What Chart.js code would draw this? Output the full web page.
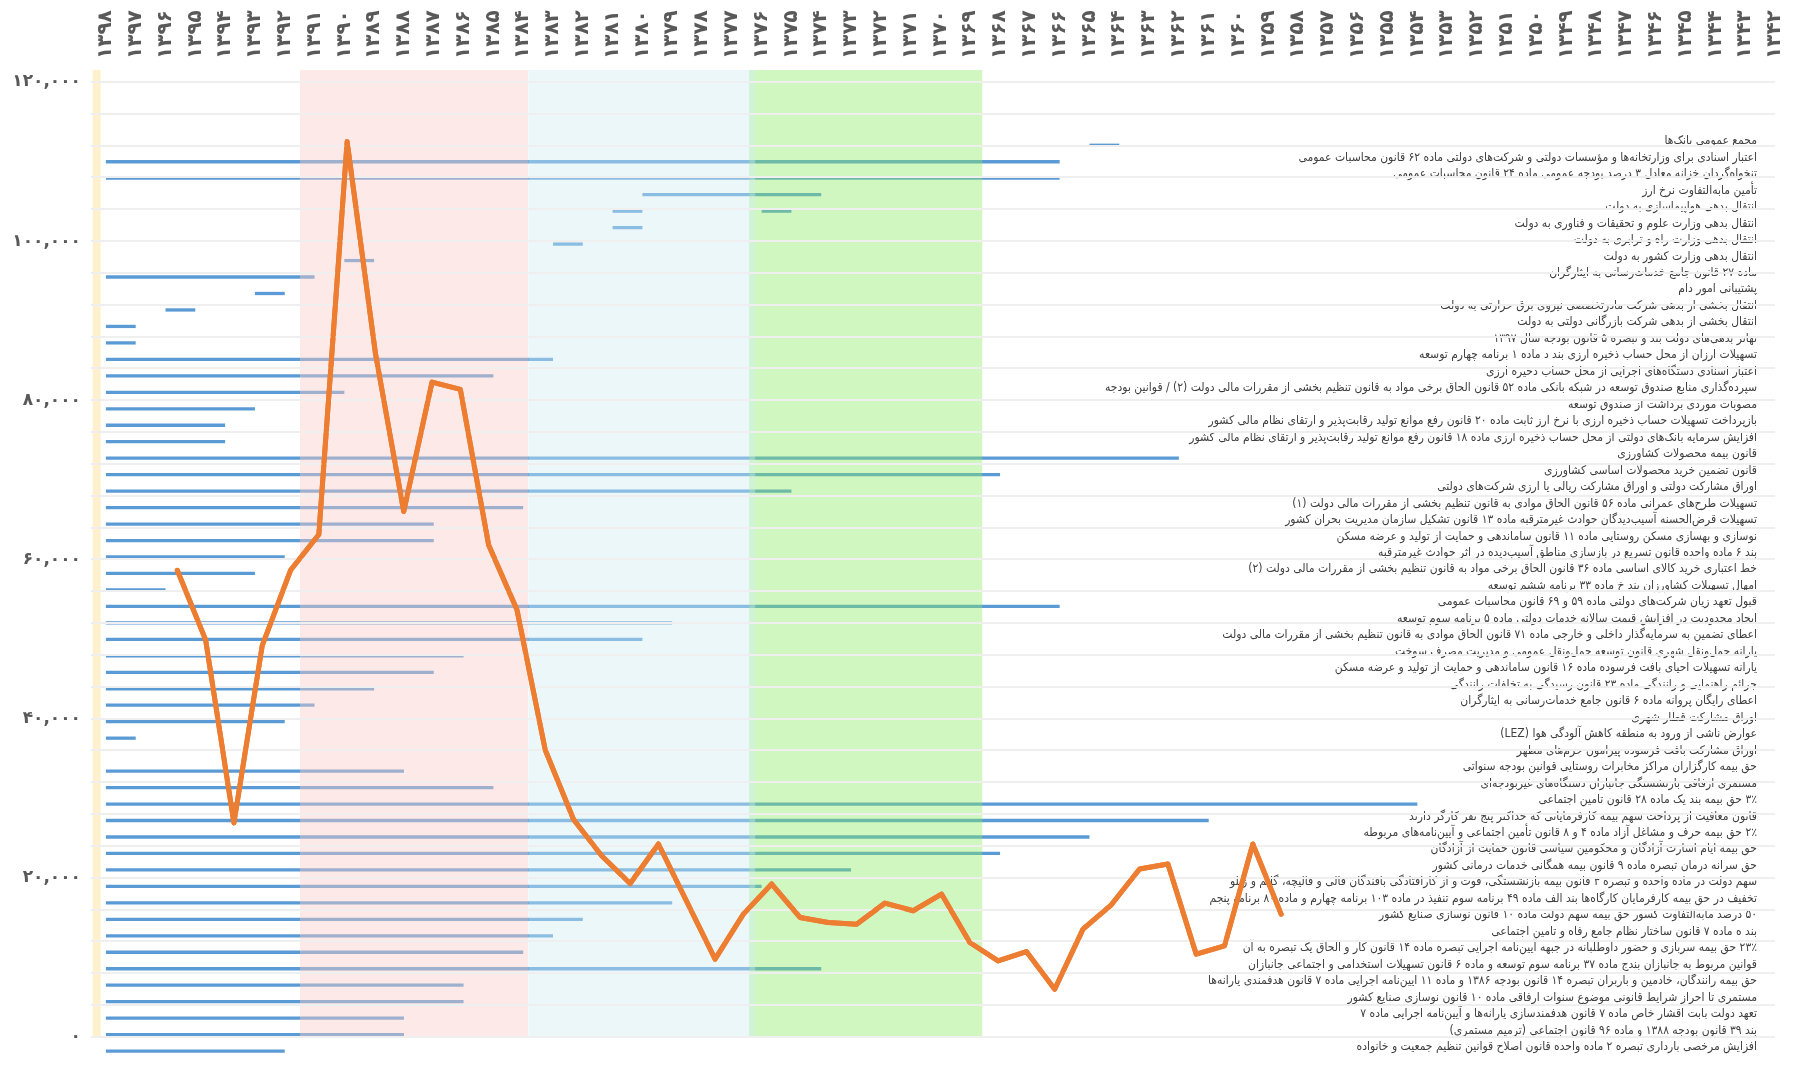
<!DOCTYPE html>
<html>
<head>
<meta charset="utf-8">
<script src="https://cdn.jsdelivr.net/npm/chart.js@4.4.1/dist/chart.umd.min.js"></script>
<style>
  html, body { margin: 0; padding: 0; background: #fff; }
  #wrap { width: 1793px; height: 1067px; }
</style>
</head>
<body>
<div id="wrap"><canvas id="chart" width="1793" height="1067" dir="rtl"></canvas></div>
<script>
// ---- data ----
var years = [1398, 1397, 1396, 1395, 1394, 1393, 1392, 1391, 1390, 1389, 1388, 1387, 1386, 1385,
  1384, 1383, 1382, 1381, 1380, 1379, 1378, 1377, 1376, 1375, 1374, 1373, 1372, 1371, 1370,
  1369, 1368, 1367, 1366, 1365, 1364, 1363, 1362, 1361, 1360, 1359, 1358, 1357, 1356, 1355,
  1354, 1353, 1352, 1351, 1350, 1349, 1348, 1347, 1346, 1345, 1344, 1343, 1342];

var yTickLabels = [0, 20000, 40000, 60000, 80000, 100000, 120000];

var lineYears = [1396, 1395, 1394, 1393, 1392, 1391, 1390, 1389, 1388, 1387, 1386, 1385, 1384,
  1383, 1382, 1381, 1380, 1379, 1378, 1377, 1376, 1375, 1374, 1373, 1372, 1371, 1370, 1369,
  1368, 1367, 1366, 1365, 1364, 1363, 1362, 1361, 1360, 1359, 1358, 1357];
var lineValues = [58640, 49900, 26900, 49170, 58640, 63140, 112500, 85890, 66030, 82280, 81370,
  61820, 53690, 36060, 27320, 22740, 19280, 24250, 17000, 9780, 15440, 19220, 15020, 14390,
  14180, 16820, 15860, 17960, 11870, 9560, 10740, 6000, 13550, 16610, 21100, 21730, 10400,
  11450, 24250, 15440];

var rowLabels = [
  'مجمع عمومی بانک‌ها',
  'اعتبار اسنادی برای وزارتخانه‌ها و مؤسسات دولتی و شرکت‌های دولتی ماده ۶۲ قانون محاسبات عمومی',
  'تنخواه‌گردان خزانه معادل ۳ درصد بودجه عمومی ماده ۲۴ قانون محاسبات عمومی',
  'تأمین مابه‌التفاوت نرخ ارز',
  'انتقال بدهی هواپیماسازی به دولت',
  'انتقال بدهی وزارت علوم و تحقیقات و فناوری به دولت',
  'انتقال بدهی وزارت راه و ترابری به دولت',
  'انتقال بدهی وزارت کشور به دولت',
  'ماده ۲۷ قانون جامع خدمات‌رسانی به ایثارگران',
  'پشتیبانی امور دام',
  'انتقال بخشی از بدهی شرکت مادرتخصصی نیروی برق حرارتی به دولت',
  'انتقال بخشی از بدهی شرکت بازرگانی دولتی به دولت',
  'تهاتر بدهی‌های دولت بند و تبصره ۵ قانون بودجه سال ۱۳۹۷',
  'تسهیلات ارزان از محل حساب ذخیره ارزی بند د ماده ۱ برنامه چهارم توسعه',
  'اعتبار اسنادی دستگاه‌های اجرایی از محل حساب ذخیره ارزی',
  'سپرده‌گذاری منابع صندوق توسعه در شبکه بانکی ماده ۵۲ قانون الحاق برخی مواد به قانون تنظیم بخشی از مقررات مالی دولت (۲) / قوانین بودجه',
  'مصوبات موردی برداشت از صندوق توسعه',
  'بازپرداخت تسهیلات حساب ذخیره ارزی با نرخ ارز ثابت ماده ۲۰ قانون رفع موانع تولید رقابت‌پذیر و ارتقای نظام مالی کشور',
  'افزایش سرمایه بانک‌های دولتی از محل حساب ذخیره ارزی ماده ۱۸ قانون رفع موانع تولید رقابت‌پذیر و ارتقای نظام مالی کشور',
  'قانون بیمه محصولات کشاورزی',
  'قانون تضمین خرید محصولات اساسی کشاورزی',
  'اوراق مشارکت دولتی و اوراق مشارکت ریالی یا ارزی شرکت‌های دولتی',
  'تسهیلات طرح‌های عمرانی ماده ۵۶ قانون الحاق موادی به قانون تنظیم بخشی از مقررات مالی دولت (۱)',
  'تسهیلات قرض‌الحسنه آسیب‌دیدگان حوادث غیرمترقبه ماده ۱۳ قانون تشکیل سازمان مدیریت بحران کشور',
  'نوسازی و بهسازی مسکن روستایی ماده ۱۱ قانون ساماندهی و حمایت از تولید و عرضه مسکن',
  'بند ۶ ماده واحده قانون تسریع در بازسازی مناطق آسیب‌دیده در اثر حوادث غیرمترقبه',
  'خط اعتباری خرید کالای اساسی ماده ۳۶ قانون الحاق برخی مواد به قانون تنظیم بخشی از مقررات مالی دولت (۲)',
  'امهال تسهیلات کشاورزان بند خ ماده ۳۳ برنامه ششم توسعه',
  'قبول تعهد زیان شرکت‌های دولتی ماده ۵۹ و ۶۹ قانون محاسبات عمومی',
  'ایجاد محدودیت در افزایش قیمت سالانه خدمات دولتی ماده ۵ برنامه سوم توسعه',
  'اعطای تضمین به سرمایه‌گذار داخلی و خارجی ماده ۷۱ قانون الحاق موادی به قانون تنظیم بخشی از مقررات مالی دولت',
  'یارانه حمل‌ونقل شهری قانون توسعه حمل‌ونقل عمومی و مدیریت مصرف سوخت',
  'یارانه تسهیلات احیای بافت فرسوده ماده ۱۶ قانون ساماندهی و حمایت از تولید و عرضه مسکن',
  'جرائم راهنمایی و رانندگی ماده ۲۳ قانون رسیدگی به تخلفات رانندگی',
  'اعطای رایگان پروانه ماده ۶ قانون جامع خدمات‌رسانی به ایثارگران',
  'اوراق مشارکت قطار شهری',
  'عوارض ناشی از ورود به منطقه کاهش آلودگی هوا (LEZ)',
  'اوراق مشارکت بافت فرسوده پیرامون حرم‌های مطهر',
  'حق بیمه کارگزاران مراکز مخابرات روستایی قوانین بودجه سنواتی',
  'مستمری ارفاقی بازنشستگی جانبازان دستگاه‌های غیربودجه‌ای',
  '۳٪ حق بیمه بند یک ماده ۲۸ قانون تامین اجتماعی',
  'قانون معافیت از پرداخت سهم بیمه کارفرمایانی که حداکثر پنج نفر کارگر دارند',
  '۲٪ حق بیمه حرف و مشاغل آزاد ماده ۴ و ۸ قانون تأمین اجتماعی و آیین‌نامه‌های مربوطه',
  'حق بیمه ایام اسارت آزادگان و محکومین سیاسی قانون حمایت از آزادگان',
  'حق سرانه درمان تبصره ماده ۹ قانون بیمه همگانی خدمات درمانی کشور',
  'سهم دولت در ماده واحده و تبصره ۳ قانون بیمه بازنشستگی، فوت و از کارافتادگی بافندگان قالی و قالیچه، گلیم و زیلو',
  'تخفیف در حق بیمه کارفرمایان کارگاه‌ها بند الف ماده ۴۹ برنامه سوم تنفیذ در ماده ۱۰۳ برنامه چهارم و ماده ۸۰ برنامه پنجم',
  '۵۰ درصد مابه‌التفاوت کسور حق بیمه سهم دولت ماده ۱۰ قانون نوسازی صنایع کشور',
  'بند ه ماده ۷ قانون ساختار نظام جامع رفاه و تامین اجتماعی',
  '۲۳٪ حق بیمه سربازی و حضور داوطلبانه در جبهه آیین‌نامه اجرایی تبصره ماده ۱۴ قانون کار و الحاق یک تبصره به آن',
  'قوانین مربوط به جانبازان بندج ماده ۳۷ برنامه سوم توسعه و ماده ۶ قانون تسهیلات استخدامی و اجتماعی جانبازان',
  'حق بیمه رانندگان، خادمین و باربران تبصره ۱۴ قانون بودجه ۱۳۸۶ و ماده ۱۱ آیین‌نامه اجرایی ماده ۷ قانون هدفمندی یارانه‌ها',
  'مستمری تا احراز شرایط قانونی موضوع سنوات ارفاقی ماده ۱۰ قانون نوسازی صنایع کشور',
  'تعهد دولت بابت اقشار خاص ماده ۷ قانون هدفمندسازی یارانه‌ها و آیین‌نامه اجرایی ماده ۷',
  'بند ۳۹ قانون بودجه ۱۳۸۸ و ماده ۹۶ قانون اجتماعی (ترمیم مستمری)',
  'افزایش مرخصی بارداری تبصره ۲ ماده واحده قانون اصلاح قوانین تنظیم جمعیت و خانواده'
];

// first and last year of each row's bar (null = no bar)
var rowFrom = [1364, 1366, 1366, 1374, 1380, 1380, 1382, 1389, 1391, 1392, 1395, 1397, 1397,
  1383, 1385, 1390, 1393, 1394, 1394, 1362, 1368, 1375, 1384, 1387, 1387, 1392, 1393, 1396,
  1366, 1379, 1380, 1386, 1387, 1389, 1391, 1392, 1397, null, 1388, 1385, 1354, 1361, 1365,
  1368, 1373, 1376, 1379, 1382, 1383, 1384, 1374, 1386, 1386, 1388, 1388, 1392];
var rowTo = [1365, 1398, 1398, 1380, 1381, 1381, 1383, 1390, 1398, 1393, 1396, 1398, 1398,
  1398, 1398, 1398, 1398, 1398, 1398, 1398, 1398, 1398, 1398, 1398, 1398, 1398, 1398, 1398,
  1398, 1398, 1398, 1398, 1398, 1398, 1398, 1398, 1398, null, 1398, 1398, 1398, 1398, 1398,
  1398, 1398, 1398, 1398, 1398, 1398, 1398, 1398, 1398, 1398, 1398, 1398, 1398];

// rows that have a second, separate bar
var extraRow = [5];
var extraFrom = [1375];
var extraTo = [1376];

// shaded periods (year values on the main axis)
var bandFrom = [1398.45, 1391.49, 1383.83, 1376.42];
var bandTo = [1398.17, 1383.83, 1376.21, 1368.59];

// ---- styling ----
var FONT = "'DejaVu Sans', sans-serif";
var LABEL_FONT = "'DejaVu Sans Condensed', 'DejaVu Sans', sans-serif";
var bandColors = ['rgba(255,236,190,0.75)', 'rgba(250,204,199,0.43)',
  'rgba(208,235,243,0.41)', 'rgba(137,235,97,0.4)'];
var Y_MIN = -2640, Y_MAX = 121500;
var YEAR_FONT = 20;

var faDigits = '۰۱۲۳۴۵۶۷۸۹';
function toFa(v) {
  return String(v).replace(/[0-9]/g, function (d) { return faDigits[d]; });
}

// pin an axis size and drop the extra room Chart.js keeps for edge labels
function pinSize(prop, size) {
  return function (s) {
    s[prop] = size;
    s.paddingLeft = 0;
    s.paddingRight = 0;
    s.paddingTop = 0;
    s.paddingBottom = 0;
  };
}

var ganttData = [];
rowLabels.forEach(function (label, i) {
  if (rowFrom[i] !== null) ganttData.push({ y: i + 1, x: [rowFrom[i], rowTo[i]] });
});
extraRow.forEach(function (r, i) {
  ganttData.push({ y: r, x: [extraFrom[i], extraTo[i]] });
});

var datasets = [{
  type: 'line',
  data: lineYears.map(function (yr, i) { return { x: yr, y: lineValues[i] }; }),
  xAxisID: 'xLine',
  yAxisID: 'y',
  borderColor: '#ed7d31',
  borderWidth: 5,
  borderJoinStyle: 'round',
  borderCapStyle: 'round',
  pointRadius: 0,
  tension: 0,
  fill: false,
  order: 0
}];

bandFrom.forEach(function (from, k) {
  datasets.push({
    type: 'line',
    data: [{ x: from, y: Y_MAX }, { x: bandTo[k], y: Y_MAX }],
    xAxisID: 'x',
    yAxisID: 'y',
    borderColor: 'transparent',
    borderWidth: 0,
    pointRadius: 0,
    fill: 'origin',
    backgroundColor: bandColors[k],
    order: 1
  });
});

datasets.push({
  type: 'bar',
  indexAxis: 'y',
  data: ganttData,
  xAxisID: 'x',
  yAxisID: 'rows',
  backgroundColor: '#5b9bd5',
  categoryPercentage: 1,
  barPercentage: 0.4,
  order: 2
});

// draw the line again so the gridlines do not cross it
var lineOnTop = {
  id: 'lineOnTop',
  afterDraw: function (chart) {
    var meta = chart.getDatasetMeta(0);
    chart.ctx.save();
    meta.controller.draw();
    chart.ctx.restore();
  }
};

Chart.defaults.font.family = FONT;

new Chart(document.getElementById('chart'), {
  type: 'bar',
  data: { datasets: datasets },
  plugins: [lineOnTop],
  options: {
    responsive: false,
    animation: false,
    devicePixelRatio: 1,
    layout: { padding: { top: 0, left: 0, right: 0, bottom: 9 } },
    plugins: { legend: { display: false }, tooltip: { enabled: false } },
    scales: {
      x: {
        type: 'linear',
        position: 'top',
        reverse: true,
        offset: false,
        min: 1342,
        max: 1398.5,
        afterBuildTicks: function (s) {
          s.ticks = years.map(function (v) { return { value: v }; });
        },
        afterFit: pinSize('height', 70),
        grid: { display: false },
        border: { display: false },
        ticks: {
          autoSkip: false,
          minRotation: 90,
          maxRotation: 90,
          padding: 3,
          labelOffset: YEAR_FONT * 1.2,
          color: '#595959',
          font: { size: YEAR_FONT, weight: 'bold', lineHeight: 1.2 },
          callback: function (v) { return toFa(v); }
        }
      },
      xLine: {
        type: 'linear',
        display: false,
        reverse: true,
        offset: false,
        min: 1339.55,
        max: 1399.05
      },
      y: {
        type: 'linear',
        position: 'left',
        min: Y_MIN,
        max: Y_MAX,
        afterBuildTicks: function (s) {
          var t = [];
          for (var v = 0; v <= 120000; v += 4000) t.push({ value: v });
          s.ticks = t;
        },
        afterFit: pinSize('width', 91),
        grid: { color: '#efefef', lineWidth: 2, drawTicks: false, z: 1 },
        border: { display: false },
        ticks: {
          autoSkip: false,
          padding: 10,
          color: '#595959',
          font: { size: 17, weight: 'bold' },
          callback: function (v) {
            return yTickLabels.indexOf(v) >= 0 ? toFa(v.toLocaleString('en-US')) : '';
          }
        }
      },
      rows: {
        type: 'linear',
        position: 'right',
        reverse: true,
        offset: false,
        min: -3.32,
        max: 56.67,
        afterBuildTicks: function (s) {
          s.ticks = rowLabels.map(function (l, i) { return { value: i + 1 }; });
        },
        afterFit: pinSize('width', 18),
        grid: { display: false },
        border: { display: false },
        ticks: {
          mirror: true,
          autoSkip: false,
          padding: -18,
          color: '#404040',
          font: { size: 12, family: LABEL_FONT },
          callback: function (v) { return rowLabels[Math.round(v) - 1]; }
        }
      }
    }
  }
});
</script>
</body>
</html>
